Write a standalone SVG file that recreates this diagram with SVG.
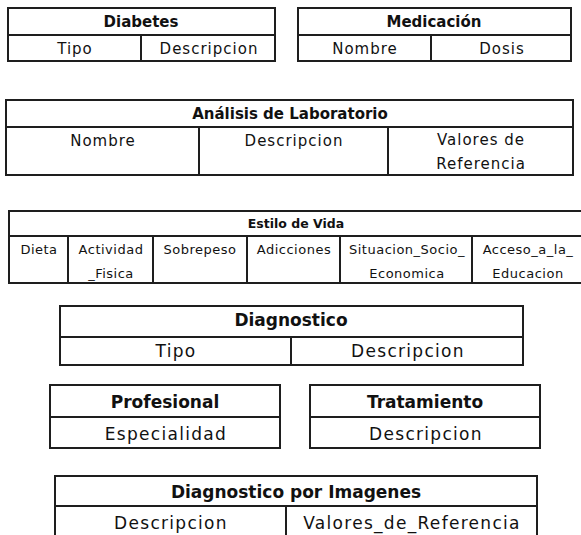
<svg xmlns="http://www.w3.org/2000/svg" width="581" height="535" viewBox="0 0 581 535">
<style>
.box{fill:#fff;stroke:#1e1e1e;stroke-width:2}
.ln{stroke:#1e1e1e;stroke-width:2}
text{font-family:"DejaVu Sans","Liberation Sans",sans-serif;fill:#111;text-anchor:middle}
.h15{font-weight:bold;font-size:15px}
.h12{font-weight:bold;font-size:12.5px}
.h17{font-weight:bold;font-size:17px}
.t15{font-size:15px;letter-spacing:1px}
.t13{font-size:13px;letter-spacing:0.5px}
.t17{font-size:17px;letter-spacing:1.3px}
</style>
<rect width="581" height="535" fill="#fff"/>
<g id="diabetes">
<rect class="box" x="8" y="8" width="267" height="53"/>
<line class="ln" x1="8" y1="35" x2="275" y2="35"/>
<line class="ln" x1="141" y1="35" x2="141" y2="61"/>
<text class="h15" x="141" y="27">Diabetes</text>
<text class="t15" x="75" y="54">Tipo</text>
<text class="t15" x="209" y="54">Descripcion</text>
</g>
<g id="medicacion">
<rect class="box" x="298" y="8" width="273" height="53"/>
<line class="ln" x1="298" y1="35" x2="571" y2="35"/>
<line class="ln" x1="431" y1="35" x2="431" y2="61"/>
<text class="h15" x="434" y="27">Medicación</text>
<text class="t15" x="365" y="54">Nombre</text>
<text class="t15" x="502" y="54">Dosis</text>
</g>
<g id="analisis">
<rect class="box" x="6" y="100" width="567" height="75"/>
<line class="ln" x1="6" y1="127" x2="573" y2="127"/>
<line class="ln" x1="199" y1="127" x2="199" y2="175"/>
<line class="ln" x1="388" y1="127" x2="388" y2="175"/>
<text class="h15" x="290" y="119">Análisis de Laboratorio</text>
<text class="t15" x="103" y="146">Nombre</text>
<text class="t15" x="294" y="146">Descripcion</text>
<text class="t15" x="481" y="145">Valores de</text>
<text class="t15" x="481" y="169">Referencia</text>
</g>
<g id="estilo">
<rect class="box" x="9" y="211" width="575" height="72"/>
<line class="ln" x1="9" y1="236" x2="584" y2="236"/>
<line class="ln" x1="68" y1="236" x2="68" y2="283"/>
<line class="ln" x1="153" y1="236" x2="153" y2="283"/>
<line class="ln" x1="247" y1="236" x2="247" y2="283"/>
<line class="ln" x1="340" y1="236" x2="340" y2="283"/>
<line class="ln" x1="472" y1="236" x2="472" y2="283"/>
<text class="h12" x="296" y="228">Estilo de Vida</text>
<text class="t13" x="39" y="254">Dieta</text>
<text class="t13" x="111" y="254">Actividad</text>
<text class="t13" x="111" y="278">_Fisica</text>
<text class="t13" x="200" y="254">Sobrepeso</text>
<text class="t13" x="294" y="254">Adicciones</text>
<text class="t13" x="407" y="254">Situacion_Socio_</text>
<text class="t13" x="407" y="278">Economica</text>
<text class="t13" x="528" y="254">Acceso_a_la_</text>
<text class="t13" x="528" y="278">Educacion</text>
</g>
<g id="diagnostico">
<rect class="box" x="60" y="306" width="463" height="59"/>
<line class="ln" x1="60" y1="337" x2="523" y2="337"/>
<line class="ln" x1="291" y1="337" x2="291" y2="365"/>
<text class="h17" x="291" y="326">Diagnostico</text>
<text class="t17" x="176" y="357">Tipo</text>
<text class="t17" x="408" y="357">Descripcion</text>
</g>
<g id="profesional">
<rect class="box" x="50" y="385" width="230" height="63"/>
<line class="ln" x1="50" y1="417" x2="280" y2="417"/>
<text class="h17" x="165" y="408">Profesional</text>
<text class="t17" x="166" y="440">Especialidad</text>
</g>
<g id="tratamiento">
<rect class="box" x="310" y="385" width="230" height="63"/>
<line class="ln" x1="310" y1="417" x2="540" y2="417"/>
<text class="h17" x="425" y="408">Tratamiento</text>
<text class="t17" x="426" y="440">Descripcion</text>
</g>
<g id="diagnostico-imagenes">
<rect class="box" x="55" y="476" width="482" height="64"/>
<line class="ln" x1="55" y1="506" x2="537" y2="506"/>
<line class="ln" x1="286" y1="506" x2="286" y2="540"/>
<text class="h17" x="296" y="498">Diagnostico por Imagenes</text>
<text class="t17" x="171" y="529">Descripcion</text>
<text class="t17" x="412" y="529">Valores_de_Referencia</text>
</g>
<g id="connectors"/>
</svg>
